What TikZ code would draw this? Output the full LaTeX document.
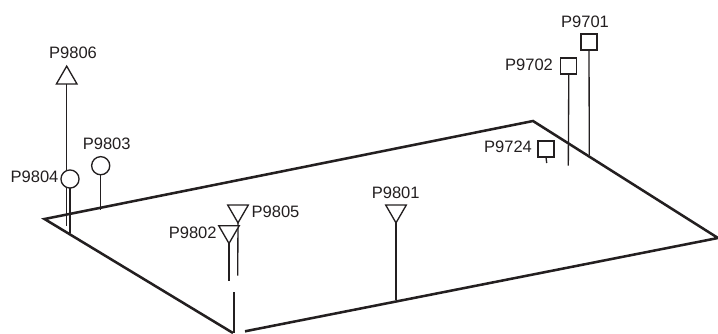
\documentclass[tikz,border=0pt]{standalone}
\usepackage{fontspec}
\setmainfont{Liberation Sans}
\usetikzlibrary{shapes.geometric}
\definecolor{inkdark}{RGB}{35,31,32}

\begin{document}
\begin{tikzpicture}[
    x=0.75pt, y=-0.75pt,
    plate/.style={draw=inkdark, line width=1.9pt, line join=miter},
    stem/.style={draw=inkdark, line width=1pt},
    mark sq/.style={draw=inkdark, line width=1pt, fill=white, rectangle, minimum size=12pt, inner sep=0pt, outer sep=0pt},
    mark ci/.style={draw=inkdark, line width=1pt, fill=white, circle, minimum size=13.6pt, inner sep=0pt, outer sep=0pt},
    mark up/.style={draw=inkdark, line width=1pt, fill=white, regular polygon, regular polygon sides=3, minimum size=17.8pt, inner sep=0pt, outer sep=0pt},
    mark dn/.style={mark up, shape border rotate=180},
    tag/.style={font=\fontsize{12.4}{14}\selectfont, text=inkdark, inner sep=0pt}
]
\clip (0,0) rectangle (718,333);

% plate outline, open at the lower corner
\coordinate (west) at (44.5,219);
\coordinate (north) at (533,121);
\coordinate (east) at (718,238);
\coordinate (southr) at (245,331.3);
\coordinate (southl) at (233,333);
\draw[plate] (southr) -- (east) -- (north) -- (west) -- (southl);

% stem ends
\coordinate (e9801) at (396,300);
\coordinate (e9802) at (229,281);
\coordinate (e9803) at (100.7,210);
\coordinate (e9804) at (70,233);
\coordinate (e9805) at (237.7,275.7);
\coordinate (e9806) at (66.7,226);
\coordinate (e9701) at (589.3,155);
\coordinate (e9702) at (568.3,165.7);
\coordinate (e9724) at (546.7,163);
\coordinate (s9807) at (234,292);
\coordinate (f9807) at (234,333);

% stations
\node[mark up] (n9806) at (66.7,78) {};
\draw[stem] (n9806.side 2) -- (e9806);
\node[mark ci] (n9804) at (70,179) {};
\draw[stem] (n9804.south) -- (e9804);
\node[mark ci] (n9803) at (100.7,165.7) {};
\draw[stem] (n9803.south) -- (e9803);
\node[mark dn] (n9805) at (238,211) {};
\draw[stem] (n9805.corner 1) -- (e9805);
\node[mark dn] (n9802) at (229,231.6) {};
\draw[stem] (n9802.corner 1) -- (e9802);
\node[mark dn] (n9801) at (396,211) {};
\draw[stem] (n9801.corner 1) -- (e9801);
\node[mark sq] (n9701) at (589,42) {};
\draw[stem] (n9701.south) -- (e9701);
\node[mark sq] (n9702) at (568.8,66) {};
\draw[stem] (n9702.south) -- (e9702);
\node[mark sq] (n9724) at (546,149) {};
\draw[stem] (n9724.south) -- (e9724);
\draw[plate] (s9807) -- (f9807);

% labels
\node[tag] (t9806) at (73,53) {P9806};
\node[tag] (t9803) at (106.7,144) {P9803};
\node[tag] (t9804) at (34.5,177) {P9804};
\node[tag] (t9802) at (192.7,232.7) {P9802};
\node[tag] (t9805) at (275.5,212) {P9805};
\node[tag] (t9801) at (395.7,193) {P9801};
\node[tag] (t9701) at (585,22) {P9701};
\node[tag] (t9702) at (529,65) {P9702};
\node[tag] (t9724) at (508,147) {P9724};
\end{tikzpicture}
\end{document}
